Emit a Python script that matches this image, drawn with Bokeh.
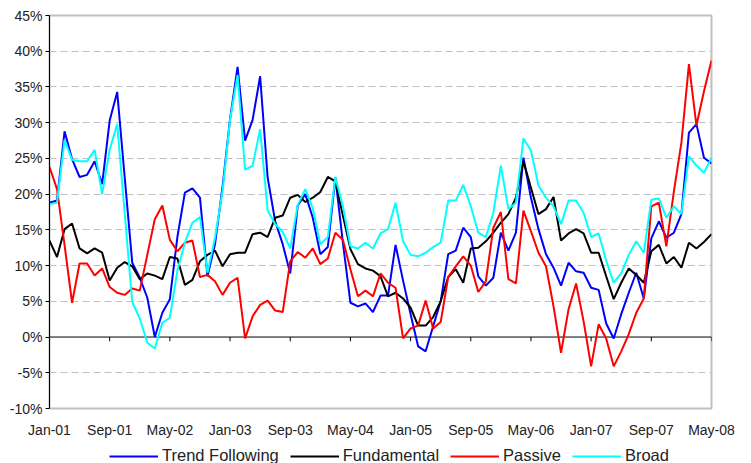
from bokeh.plotting import figure
from bokeh.layouts import column
from bokeh.models import (Range1d, FixedTicker, PrintfTickFormatter, Span,
                          Legend, LegendItem)
from bokeh.embed import file_html
from bokeh.resources import INLINE

# ---------------- data ----------------
tick_labels = ["Jan-01", "Sep-01", "May-02", "Jan-03", "Sep-03", "May-04",
               "Jan-05", "Sep-05", "May-06", "Jan-07", "Sep-07", "May-08"]
months_per_tick = 8

trend_following = [
    18.8, 19.1, 28.8, 24.9, 22.4, 22.7, 24.6, 21.4, 30.3, 34.3,
    22.3, 10.4, 8.3, 5.5, 0.0, 3.4, 5.3, 14.0, 20.2, 20.8,
    19.5, 8.5, 13.0, 21.0, 30.5, 37.8, 27.5, 30.4, 36.5, 22.3,
    16.2, 13.0, 8.9, 18.4, 20.0, 16.7, 11.6, 12.6, 22.3, 13.2,
    4.8, 4.3, 4.7, 3.5, 5.8, 5.8, 12.9, 7.9, 3.2, -1.3,
    -2.0, 1.5, 5.0, 11.6, 12.1, 15.3, 14.0, 8.5, 7.2, 8.3,
    14.6, 12.1, 14.6, 25.1, 19.5, 15.1, 11.6, 9.7, 7.2, 10.4,
    9.2, 9.0, 6.9, 6.6, 1.9, -0.2, 3.2, 6.2, 9.0, 5.4,
    13.8, 16.2, 13.9, 14.6, 17.2, 28.6, 29.8, 25.1, 24.3]

fundamental = [
    13.5, 11.2, 15.1, 15.9, 12.4, 11.7, 12.4, 11.8, 7.9, 9.7,
    10.5, 9.9, 8.1, 8.9, 8.6, 8.1, 11.2, 11.0, 7.3, 8.0,
    10.6, 11.5, 12.1, 9.9, 11.6, 11.8, 11.8, 14.4, 14.6, 14.0,
    16.7, 17.0, 19.5, 19.9, 18.9, 19.5, 20.3, 22.4, 21.8, 17.0,
    12.3, 10.2, 9.6, 9.3, 8.5, 5.7, 6.2, 5.4, 4.1, 1.6,
    1.6, 2.8, 5.0, 8.4, 9.5, 7.6, 12.4, 12.5, 13.4, 14.6,
    16.0, 17.2, 19.5, 24.6, 20.9, 17.2, 17.9, 19.6, 13.5, 14.5,
    15.1, 14.5, 11.8, 11.8, 8.5, 5.3, 7.6, 9.6, 8.7, 7.6,
    12.0, 12.9, 10.3, 11.2, 9.7, 13.2, 12.4, 13.3, 14.4]

passive = [
    23.8, 20.7, 12.9, 4.8, 10.3, 10.3, 8.6, 9.6, 7.0, 6.2,
    5.9, 6.8, 6.5, 11.5, 16.5, 18.4, 13.6, 12.0, 13.2, 13.5,
    8.4, 8.7, 7.8, 5.9, 7.6, 8.3, -0.2, 2.9, 4.5, 5.1,
    3.7, 3.5, 10.6, 11.9, 11.1, 12.4, 10.2, 11.0, 14.6, 13.6,
    9.5, 5.7, 6.5, 5.7, 8.9, 7.6, 6.9, -0.2, 1.2, 1.6,
    5.1, 1.2, 2.1, 8.4, 9.9, 11.3, 10.0, 6.3, 7.8, 15.3,
    17.5, 8.1, 7.5, 17.7, 14.8, 11.8, 9.9, 4.3, -2.2, 3.9,
    7.5, 2.2, -4.1, 1.8, -0.2, -4.1, -2.0, 0.4, 3.4, 5.4,
    18.3, 18.8, 12.7, 20.4, 27.2, 38.2, 29.6, 34.4, 38.7]

broad = [
    18.6, 18.8, 27.6, 24.8, 24.6, 24.6, 26.2, 20.0, 26.2, 29.8,
    17.3, 4.9, 2.6, -0.8, -1.6, 2.0, 2.7, 9.3, 13.2, 16.0,
    16.8, 9.0, 13.9, 20.4, 30.4, 36.7, 23.4, 24.0, 29.1, 17.7,
    15.8, 14.7, 12.4, 18.5, 20.7, 18.0, 13.0, 14.0, 22.4, 18.3,
    12.7, 12.4, 13.2, 12.4, 14.5, 15.1, 18.8, 13.4, 11.5, 11.3,
    11.8, 12.6, 13.2, 19.1, 19.1, 21.3, 18.3, 14.6, 14.0, 17.4,
    24.0, 17.9, 18.8, 27.8, 26.1, 21.2, 19.5, 18.3, 15.8, 19.1,
    19.1, 17.4, 14.0, 14.5, 10.7, 7.6, 8.9, 11.5, 13.4, 11.8,
    19.2, 19.4, 16.7, 18.3, 17.2, 25.3, 24.0, 23.0, 25.1]

series_names = ["Trend Following", "Fundamental", "Passive", "Broad"]
series_colors = ["#0000ff", "#000000", "#ff0000", "#00ffff"]
series_values = [trend_following, fundamental, passive, broad]

y_min, y_max, y_step = -10, 45, 5

# ---------------- main figure ----------------
months = list(range(len(trend_following)))
tick_pos = [i * months_per_tick for i in range(len(tick_labels))]

FONT = "Liberation Sans"

p = figure(frame_width=662, frame_height=393,
           output_backend="svg", toolbar_location=None,
           x_range=Range1d(months[0], months[-1]),
           y_range=Range1d(y_min, y_max),
           min_border_left=49, min_border_right=40,
           min_border_top=15, min_border_bottom=30)

p.background_fill_color = "white"
p.border_fill_color = "white"
p.outline_line_color = "#c0c0c0"
p.outline_line_width = 2

# grid
p.xgrid.visible = False
p.ygrid.ticker = FixedTicker(ticks=[v for v in range(y_min + y_step, y_max, y_step) if v != 0])
p.ygrid.grid_line_color = "#c0c0c0"
p.ygrid.grid_line_dash = "7 4"
p.ygrid.grid_line_width = 1

# y axis
ya = p.yaxis[0]
ya.ticker = FixedTicker(ticks=list(range(y_min, y_max + 1, y_step)))
ya.formatter = PrintfTickFormatter(format="%d%%")
ya.axis_line_color = "black"
ya.major_tick_line_color = "black"
ya.major_tick_out = 4
ya.major_tick_in = 0
ya.minor_tick_line_color = None
ya.major_label_standoff = 3
ya.major_label_text_font = FONT
ya.major_label_text_font_size = "14px"
ya.major_label_text_color = "#222222"

# x axis (labels at bottom)
xa = p.xaxis[0]
xa.ticker = FixedTicker(ticks=tick_pos)
xa.major_label_overrides = {pos: lab for pos, lab in zip(tick_pos, tick_labels)}
xa.axis_line_color = None
xa.major_tick_line_color = None
xa.minor_tick_line_color = None
xa.major_tick_out = 0
xa.major_tick_in = 0
xa.major_label_standoff = 13
xa.major_label_text_font = FONT
xa.major_label_text_font_size = "14px"
xa.major_label_text_color = "#222222"

# zero line with tick marks
p.add_layout(Span(location=0, dimension="width", line_color="black",
                  line_width=1, level="underlay"))
zt = p.segment(x0=tick_pos, y0=[0] * len(tick_pos), x1=tick_pos,
               y1=[-0.6] * len(tick_pos), line_color="black", line_width=1)
zt.level = "underlay"

for col, vals in zip(series_colors, series_values):
    p.line(months, vals, line_color=col, line_width=2)

# ---------------- legend strip ----------------
# same series, but the strip's x-range lies outside the data so only the legend shows
leg = figure(width=p.min_border_left + 662 + p.min_border_right, height=25,
             output_backend="svg", toolbar_location=None,
             x_range=Range1d(months[-1] + 10, months[-1] + 20),
             y_range=Range1d(y_min, y_max),
             min_border_left=0, min_border_right=0,
             min_border_top=0, min_border_bottom=0)
leg.axis.visible = False
leg.grid.visible = False
leg.outline_line_color = None
leg.background_fill_color = "white"
leg.border_fill_color = "white"

items = []
for name, col, vals in zip(series_names, series_colors, series_values):
    r = leg.line(months, vals, line_color=col, line_width=2)
    items.append(LegendItem(label=name, renderers=[r]))

legend = Legend(items=items, orientation="horizontal", location=(60, 0),
                glyph_width=49, glyph_height=16, label_height=16,
                label_standoff=4, spacing=11, padding=0, margin=0,
                label_text_font=FONT, label_text_font_size="16.5px",
                label_text_color="#222222",
                border_line_color=None, background_fill_alpha=0)
leg.add_layout(legend, "center")

layout = column(p, leg, spacing=0)

open("out.html", "w").write(file_html(layout, INLINE))
